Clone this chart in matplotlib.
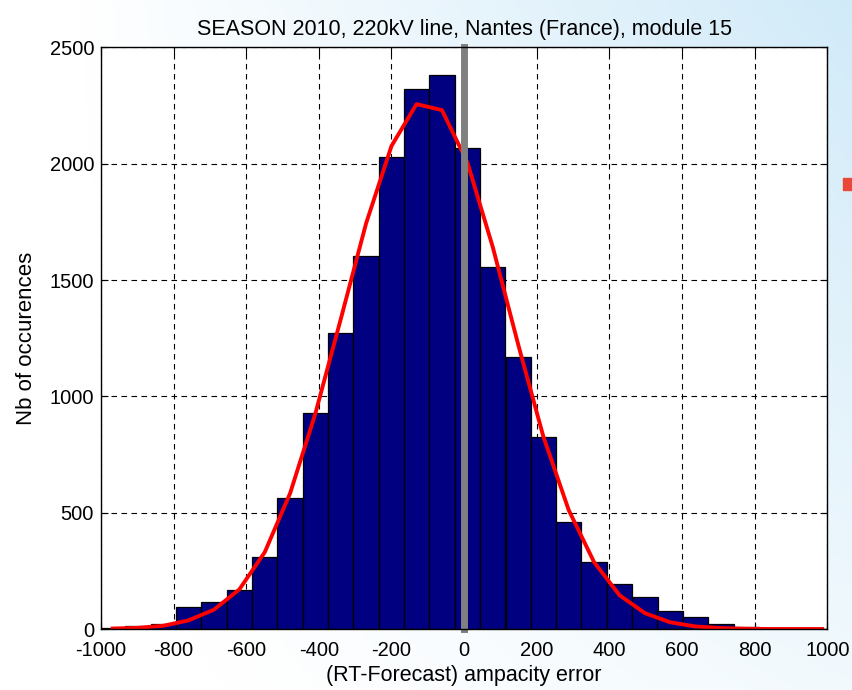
import matplotlib
matplotlib.use('Agg')
import matplotlib.pyplot as plt
import numpy as np
from matplotlib.patches import Rectangle

plt.rcParams['font.family'] = ['Liberation Sans', 'DejaVu Sans']
plt.rcParams['axes.unicode_minus'] = False

# histogram bins (centres) and counts
bin_centers = [-968, -898, -828, -759, -689, -619, -549, -479, -410, -340,
               -270, -200, -131, -61, 9, 79, 149, 218, 288, 358,
               428, 498, 567, 637, 707, 777, 846, 916, 986]
bin_width = 69.8
counts = [6, 14, 21, 95, 117, 168, 308, 562, 928, 1273,
          1603, 2027, 2319, 2381, 2066, 1557, 1170, 826, 461, 286,
          192, 139, 79, 50, 21, 10, 3, 2, 1]
# fitted curve (red) at the bin centres
fit_values = [2, 5, 14, 37, 83, 170, 330, 584, 924, 1330,
              1743, 2076, 2256, 2230, 2005, 1641, 1222, 828, 511, 287,
              145, 68, 29, 11, 4, 1, 0, 0, 0]

x_ticks = [-1000, -800, -600, -400, -200, 0, 200, 400, 600, 800, 1000]
y_ticks = [0, 500, 1000, 1500, 2000, 2500]

fig = plt.figure(figsize=(8.52, 6.9), dpi=100)

# slide background: white on the left, pale blue towards the top right
bg = fig.add_axes([0, 0, 1, 1], zorder=-10)
gx, gy = np.meshgrid(np.linspace(0, 1, 200), np.linspace(1, 0, 200))
w = np.clip(gx * (0.35 + 0.65 * gy) * 1.1 - 0.1, 0, 1)
white = np.array([1.0, 1.0, 1.0])
blue = np.array([0.82, 0.92, 0.975])
img = white[None, None, :] * (1 - w[..., None]) + blue[None, None, :] * w[..., None]
bg.imshow(img, aspect='auto', extent=[0, 1, 0, 1])
bg.axis('off')
fig.patches.append(Rectangle((843 / 852, 1 - 190 / 690), 12 / 852, 12 / 690,
                             transform=fig.transFigure, color='#e8473a'))

ax = fig.add_axes([0.1185, 0.0884, 0.8525, 0.843])
ax.set_facecolor('white')
ax.bar(bin_centers, counts, width=bin_width, color='#000080',
       edgecolor='black', linewidth=0.9, zorder=2)
ax.plot(bin_centers, fit_values, color='red', linewidth=2.8, zorder=3)
ax.plot([0, 0], [0, 2500], color='#808080', linewidth=5, zorder=4,
        solid_capstyle='projecting', clip_on=False)

ax.set_xlim(-1000, 1000)
ax.set_ylim(0, 2500)
ax.set_xticks(x_ticks)
ax.set_yticks(y_ticks)
ax.grid(True, color='black', linestyle=(0, (5, 4)), linewidth=0.8, zorder=0)
ax.set_axisbelow(True)
ax.tick_params(direction='in', top=True, right=True, length=5,
               labelsize=14.5)
ax.tick_params(axis='x', pad=8.5)
ax.tick_params(axis='y', pad=5)
for s in ax.spines.values():
    s.set_linewidth(1.0)
    s.set_zorder(5)

ax.set_title('SEASON 2010, 220kV line, Nantes (France), module 15',
             fontsize=15.5, pad=9)
ax.set_xlabel('(RT-Forecast) ampacity error', fontsize=15.5, labelpad=4)
ax.set_ylabel('Nb of occurences', fontsize=16, labelpad=9)

fig.savefig('out.png', dpi=100)
